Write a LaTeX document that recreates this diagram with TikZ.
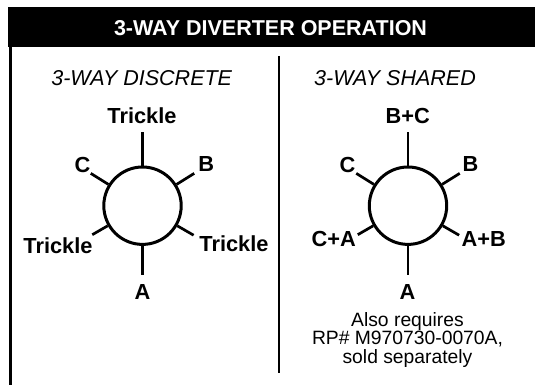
\documentclass[tikz,border=0pt]{standalone}
\usepackage{fontspec}
\setmainfont{Liberation Sans}
\usetikzlibrary{positioning}

\tikzset{
  valve/.style={draw, circle, line width=3pt, minimum size=77.4pt, inner sep=0pt},
  spoke/.style={line width=2.7pt},
  port/.style={font=\fontsize{21.8}{25}\selectfont\bfseries, inner sep=0pt, anchor=base},
  heading/.style={font=\fontsize{21.5}{25}\selectfont\itshape, inner sep=0pt, anchor=base},
  banner/.style={font=\fontsize{21.5}{25}\selectfont\bfseries, text=white, inner sep=0pt, anchor=base},
  note/.style={font=\fontsize{19.3}{18.5}\selectfont, align=center, inner sep=0pt},
}

\begin{document}
\begin{tikzpicture}[x=1pt, y=-1pt]
  \useasboundingbox (0,0) rectangle (535,385);

  % title bar
  \fill (8,6.7) rectangle (535,46.7);
  \node[banner] (title) at (270.5,36) {3-WAY DIVERTER OPERATION};

  % frame and divider
  \draw[line width=2.7pt] (10.7,46.7) -- (10.7,385);
  \draw[line width=2pt] (279,56) -- (279,373);

  \node[heading] (hdisc) at (141.7,86) {3-WAY DISCRETE};
  \node[heading] (hshar) at (395,86) {3-WAY SHARED};

  % the two valves
  \node[valve] (dl) at (142.5,205.7) {};
  \node[valve] (sr) at (408,205.7) {};

  \foreach \v in {dl,sr} {
    \foreach \name/\ang/\len in {t/90/73.4, c/148/61, b/32/61, l/210/58, r/330/59, a/270/69.3} {
      \coordinate (\v-\name) at ([shift={(\ang:\len pt)}]\v.center);
      \draw[spoke] (\v.\ang) -- (\v-\name);
    }
  }

  % discrete ports
  \node[port] (dlT) at (142,124) {Trickle};
  \node[port] (dlC) at (82.5,172.7) {C};
  \node[port] (dlB) at (206.3,171) {B};
  \node[port] (dlL) at (58,253.3) {Trickle};
  \node[port] (dlR) at (234,251.7) {Trickle};
  \node[port] (dlA) at (142.5,299.3) {A};

  % shared ports
  \node[port] (srT) at (407.8,124) {B+C};
  \node[port] (srC) at (347.5,172.7) {C};
  \node[port] (srB) at (470.5,171) {B};
  \node[port] (srL) at (333.8,246.7) {C+A};
  \node[port] (srR) at (483.8,246.7) {A+B};
  \node[port] (srA) at (407.5,299.3) {A};

  \node[note, below=12.4pt of srA.south] (srnote)
    {Also requires\\RP\# M970730-0070A,\\sold separately};
\end{tikzpicture}
\end{document}
